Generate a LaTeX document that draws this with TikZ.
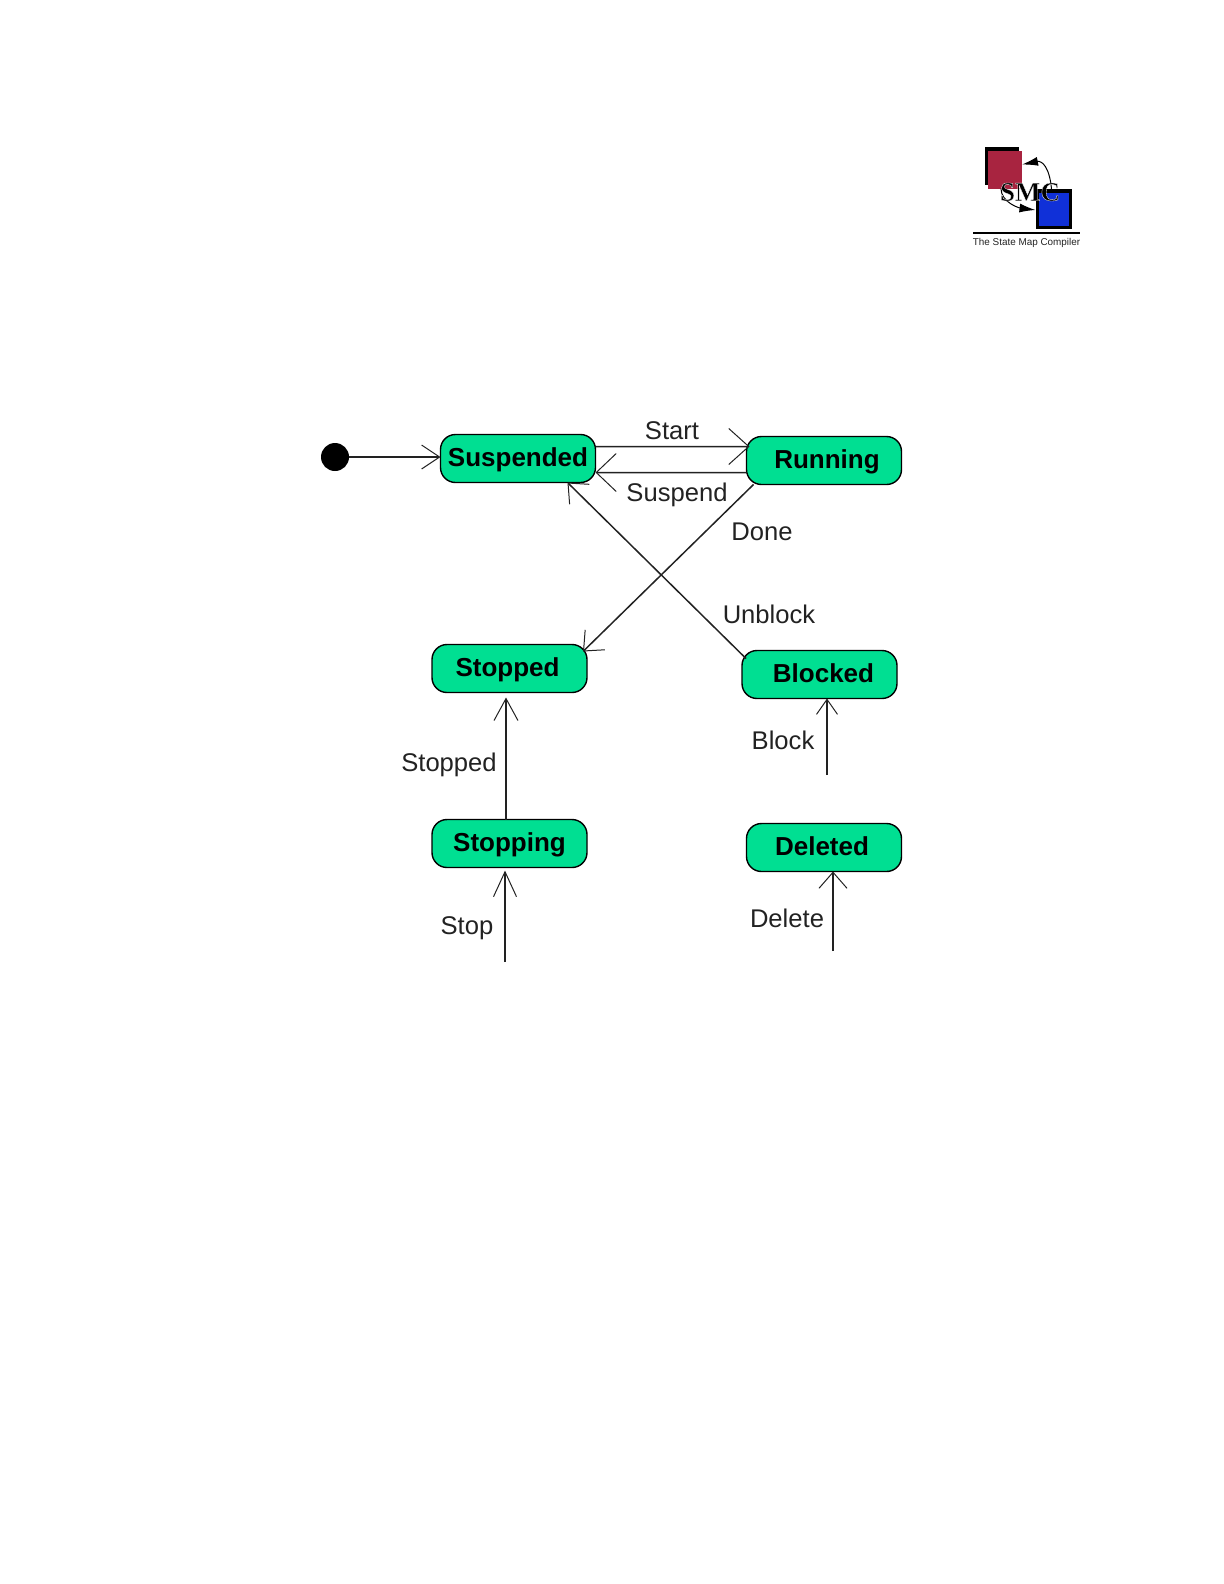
\documentclass[tikz,border=0pt]{standalone}
\usepackage{fontspec}
\setmainfont{Liberation Sans}
\newfontfamily\logofont{Liberation Serif}
\usepackage{tikz}
\usetikzlibrary{arrows.meta,positioning}

\definecolor{stategreen}{HTML}{00DF92}
\definecolor{logored}{HTML}{A82440}
\definecolor{logoblue}{HTML}{1030D8}
\definecolor{linegray}{HTML}{222222}

\begin{document}
\begin{tikzpicture}[x=0.5bp,y=-0.5bp,
  every node/.style={font=\fontsize{12.8bp}{15bp}\selectfont,outer sep=0pt},
  statebox/.style={draw=black,fill=stategreen,rounded corners=7.5bp,line width=0.7bp,minimum width=77.5bp,minimum height=24bp,inner sep=0pt,text height=9.5bp,text depth=1.5bp,font=\fontsize{13bp}{15bp}\selectfont\bfseries},
  flow/.style 2 args={draw=linegray,line width=0.75bp,-{Straight Barb[length=#1,width=#2,line width=0.5bp]}},
  lbl/.style={text=linegray,inner sep=0pt},
  logosq/.style={minimum width=17bp,minimum height=19bp,inner sep=0pt},
  logoflow/.style={draw=black,line width=0.5bp,-{Latex[length=8bp,width=4.5bp]}}]
\useasboundingbox (0,0) rectangle (1224,1584);

% states
\node[statebox] (suspended) at (518,458.5) {Suspended};
\node[statebox,right=75.5bp of suspended,yshift=-1bp] (running) {\kern3bp Running};
\node[statebox,below=81bp of suspended,xshift=-4.25bp] (stopped) {\kern-2bp Stopped};
\node[statebox,below=83bp of running,xshift=-2.25bp] (blocked) {\kern4bp Blocked};
\node[statebox,below=63.5bp of stopped] (stopping) {Stopping};
\node[statebox,below=62.5bp of blocked,xshift=2.25bp] (deleted) {\kern-2bp Deleted};
\node[circle,fill=black,minimum size=14bp,inner sep=0pt] (init) at (335,457) {};

% free ends
\coordinate (stopin) at (505,962);
\coordinate (blockin) at (827,775);
\coordinate (deletein) at (833,951);

\draw[flow={9bp}{12bp}] (init) -- (suspended.west |- init);
\draw[flow={10bp}{18bp}] ([yshift=6bp]suspended.east) -- ([xshift=1.5bp,yshift=7bp]running.west);
\draw[flow={10bp}{19bp}] ([yshift=-6bp]running.west) -- ([yshift=-7bp]suspended.east);
\draw[flow={8bp}{14bp}] ([xshift=3.5bp,yshift=0bp]running.south west) -- ([xshift=-2bp,yshift=-3.5bp]stopped.north east);
\draw[flow={8bp}{14bp}] ([xshift=2bp,yshift=-4bp]blocked.north west) -- ([xshift=-14bp,yshift=0bp]suspended.south east);
\draw[flow={11bp}{12bp}] ([xshift=-1.75bp]stopping.north) -- ([xshift=-1.75bp,yshift=-2.5bp]stopped.south);
\draw[flow={12.5bp}{11.5bp}] (stopin) -- ([yshift=-1.5bp]stopin |- stopping.south);
\draw[flow={7.5bp}{10.5bp}] (blockin) -- (blockin |- blocked.south);
\draw[flow={8bp}{14bp}] (deletein) -- (deletein |- deleted.south);

\node[lbl] (startlbl) at (672,431) {Start};
\node[lbl] (suspendlbl) at (677,495) {Suspend};
\node[lbl] (donelbl) at (762,532) {Done};
\node[lbl] (unblocklbl) at (769,614) {Unblock};
\node[lbl] (stoppedlbl) at (449,765) {Stopped};
\node[lbl] (blocklbl) at (783,740) {Block};
\node[lbl] (stoplbl) at (467,928) {Stop};
\node[lbl] (deletelbl) at (787,918) {Delete};

% logo
\node[logosq,fill=black] (redshadow) at (1001.5,166) {};
\node[logosq,fill=logored] (redbox) at (1005,169.5) {};
\node[logosq,fill=black,minimum width=18bp,minimum height=20bp] (blueshadow) at (1053.5,209) {};
\node[logosq,fill=logoblue,minimum width=15bp,minimum height=16.5bp] (bluebox) at (1054,209.5) {};
\draw[logoflow] ([xshift=-1bp]blueshadow.north) .. controls +(-2,-22) and +(20,-4) .. ([yshift=2.5bp]redbox.east);
\draw[logoflow] ([xshift=-2bp]redbox.south) .. controls +(0,14) and +(-16,-2) .. ([yshift=-0.5bp]blueshadow.west);
\node[inner sep=0pt,font=\logofont\fontsize{13.5bp}{15bp}\selectfont\bfseries] (smc) at (1030,192) {\special{pdf:code 2 Tr 1 1 1 RG 0.15 w}SMC\special{pdf:code 0 Tr 0 0 0 RG 0.5 w}};
\node[fill=black,minimum width=53.5bp,minimum height=1.2bp,inner sep=0pt] (logorule) at (1026.5,233) {};
\node[lbl,below=2.2bp of logorule,font=\fontsize{4.95bp}{6bp}\selectfont] (logotag) {The State Map Compiler};
\end{tikzpicture}
\end{document}
